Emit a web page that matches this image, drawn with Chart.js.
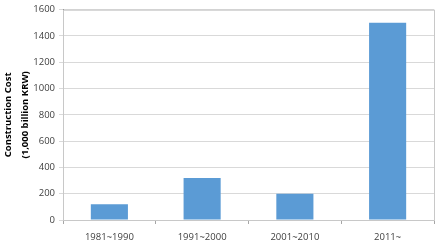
<!DOCTYPE html>
<html>
<head>
<meta charset="utf-8">
<script src="https://cdn.jsdelivr.net/npm/chart.js@4/dist/chart.umd.min.js"></script>
<style>
  html, body { margin: 0; padding: 0; background: #fff; }
  #wrap { width: 440px; height: 246px; }
</style>
</head>
<body>
<div id="wrap"><canvas id="myChart"></canvas></div>
<script>
const periods = ['1981~1990', '1991~2000', '2001~2010', '2011~'];
const costs = [120, 320, 200, 1500];
const yTitle = ['Construction Cost', '(1,000 billion KRW)'];

// light frame round the plot area
const frame = {
  id: 'frame',
  beforeDatasetsDraw(chart) {
    const a = chart.chartArea, ctx = chart.ctx;
    ctx.save();
    ctx.strokeStyle = '#c8c8c8';
    ctx.lineWidth = 1;
    ctx.strokeRect(a.left + 0.5, a.top + 0.5, a.right - a.left, a.bottom - a.top);
    ctx.restore();
  }
};

Chart.defaults.font.family = 'Open Sans';
Chart.defaults.color = '#404040';

new Chart(document.getElementById('myChart'), {
  type: 'bar',
  data: {
    labels: periods,
    datasets: [{
      data: costs,
      backgroundColor: '#5b9bd5',
      barPercentage: 0.4,
      categoryPercentage: 1
    }]
  },
  options: {
    responsive: true,
    maintainAspectRatio: false,
    animation: false,
    layout: { padding: { top: 5, right: 6, left: 0, bottom: 0 } },
    plugins: { legend: { display: false }, tooltip: { enabled: false } },
    scales: {
      x: {
        afterFit(s) { s.height = 26; },
        grid: { offset: true, drawOnChartArea: false, tickLength: 4, color: '#a6a6a6' },
        border: { color: '#a6a6a6' },
        ticks: { font: { size: 9.5 }, padding: 8 }
      },
      y: {
        min: 0, max: 1600,
        afterFit(s) { s.width = 63; },
        ticks: { stepSize: 200, font: { size: 9.5 }, padding: 4, callback: v => String(v) },
        grid: { color: '#d9d9d9', tickLength: 4 },
        border: { color: '#888888' },
        title: {
          display: true,
          text: yTitle,
          font: { size: 9.5, weight: 'bold', lineHeight: 1.8 },
          color: '#000',
          padding: { top: 0, bottom: 0 }
        }
      }
    }
  },
  plugins: [frame]
});
</script>
</body>
</html>
